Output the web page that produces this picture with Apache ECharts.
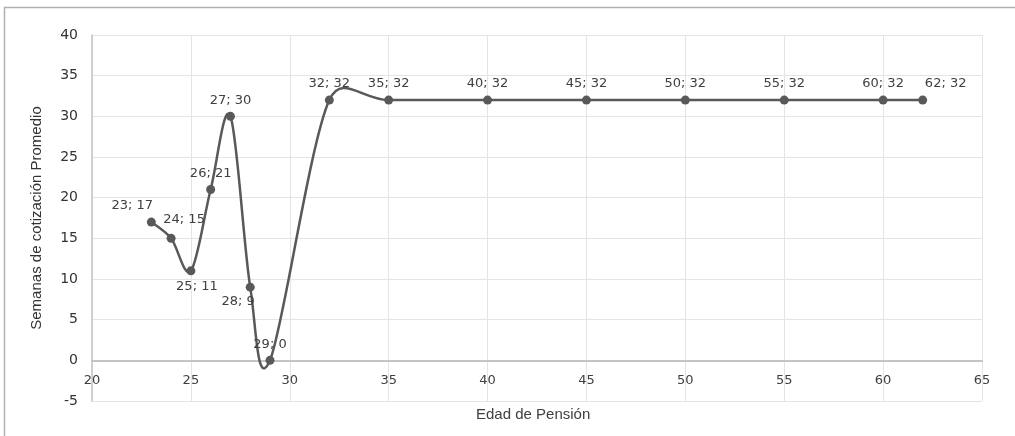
<!DOCTYPE html>
<html>
<head>
<meta charset="utf-8">
<script src="https://cdn.jsdelivr.net/npm/echarts@6/dist/echarts.min.js"></script>
<style>
  html, body { margin: 0; padding: 0; background: #ffffff; }
  #chart { width: 1015px; height: 436px; }
</style>
</head>
<body>
<div id="chart"></div>
<script>
// Edad de pensión (años) y semanas de cotización promedio
const ages = [23, 24, 25, 26, 27, 28, 29, 32, 35, 40, 45, 50, 55, 60, 62];
const weeks = [17, 15, 11, 21, 30, 9, 0, 32, 32, 32, 32, 32, 32, 32, 32];

const xTicks = { min: 20, max: 65, step: 5 };
const yTicks = { min: -5, max: 40, step: 5 };

const xTitle = 'Edad de Pensión';
const yTitle = 'Semanas de cotización Promedio';

// Label placement per point (keyed by age), everything else sits above its marker
const labelPlacement = {
  23: { position: 'top', offset: [-19, 0] },
  24: { position: 'top', offset: [13, -3] },
  25: { position: 'bottom', offset: [6, 0] },
  28: { position: 'bottom', offset: [-12, -2] },
  62: { position: 'top', offset: [23, 0] }
};

const points = ages.map((a, i) => [a, weeks[i]]);

const seriesData = points.map((p, i) => {
  const item = { value: p };
  if (labelPlacement[ages[i]]) item.label = labelPlacement[ages[i]];
  return item;
});

const ink = '#595959';
const gridColor = '#e4e4e4';
const axisColor = '#c4c4c4';

// Spreadsheet-style smoothed segment: cubic Bezier whose control arms follow
// the neighbouring points (Catmull-Rom, tension 1/6), arm capped at half the segment.
function controlArm(prev, cur, next, segLen) {
  const dx = next[0] - prev[0], dy = next[1] - prev[1];
  const len = Math.hypot(dx, dy) || 1;
  let arm = len / 6;
  arm = Math.min(arm, segLen / 2);
  return [dx / len * arm, dy / len * arm];
}

function renderSegment(params, api) {
  const i = params.dataIndex;
  if (i >= points.length - 1) return null;
  const px = points.map(p => api.coord(p));
  const p0 = px[Math.max(i - 1, 0)];
  const p1 = px[i];
  const p2 = px[i + 1];
  const p3 = px[Math.min(i + 2, px.length - 1)];
  const seg = Math.hypot(p2[0] - p1[0], p2[1] - p1[1]);
  const a1 = controlArm(p0, p1, p2, seg);
  const a2 = controlArm(p1, p2, p3, seg);
  return {
    type: 'bezierCurve',
    shape: {
      x1: p1[0], y1: p1[1],
      cpx1: p1[0] + a1[0], cpy1: p1[1] + a1[1],
      cpx2: p2[0] - a2[0], cpy2: p2[1] - a2[1],
      x2: p2[0], y2: p2[1]
    },
    style: { stroke: ink, lineWidth: 2.5, fill: null }
  };
}

const chart = echarts.init(document.getElementById('chart'), null, { renderer: 'canvas' });
chart.setOption({
  animation: false,
  backgroundColor: '#ffffff',
  grid: { left: 92, right: 33, top: 35, bottom: 35, containLabel: false },
  graphic: [
    { type: 'line', shape: { x1: 4, y1: 7.5, x2: 1015, y2: 7.5 }, style: { stroke: '#b0b0b0', lineWidth: 1.5 }, silent: true },
    { type: 'line', shape: { x1: 4.5, y1: 7, x2: 4.5, y2: 436 }, style: { stroke: '#b0b0b0', lineWidth: 1.5 }, silent: true },
    {
      type: 'text', left: 476, top: 407,
      style: { text: xTitle, font: '15px "Liberation Sans", sans-serif', fill: '#404040' }
    }
  ],
  xAxis: {
    type: 'value',
    min: xTicks.min, max: xTicks.max, interval: xTicks.step,
    axisLine: { show: true, onZero: true, lineStyle: { color: axisColor, width: 2 } },
    axisTick: { show: false },
    axisLabel: { color: '#404040', fontSize: 13, fontFamily: 'DejaVu Sans', margin: -27 },
    splitLine: { show: true, lineStyle: { color: gridColor, width: 1 } }
  },
  yAxis: {
    type: 'value',
    min: yTicks.min, max: yTicks.max, interval: yTicks.step,
    name: yTitle,
    nameLocation: 'middle',
    nameGap: 48,
    nameRotate: 90,
    nameTextStyle: { color: '#333333', fontSize: 15, fontFamily: 'Liberation Sans' },
    axisLine: { show: true, onZero: false, lineStyle: { color: axisColor, width: 1.5 } },
    axisTick: { show: false },
    axisLabel: { color: '#333333', fontSize: 14, fontFamily: 'DejaVu Sans', margin: 14 },
    splitLine: { show: true, lineStyle: { color: gridColor, width: 1 } }
  },
  series: [
    {
      type: 'custom',
      data: points,
      renderItem: renderSegment,
      z: 2,
      silent: true
    },
    {
      type: 'line',
      data: seriesData,
      z: 3,
      symbol: 'circle',
      symbolSize: 9,
      itemStyle: { color: ink },
      lineStyle: { width: 0, opacity: 0 },
      label: {
        show: true,
        position: 'top',
        distance: 5,
        color: '#404040',
        fontSize: 13,
        fontFamily: 'DejaVu Sans',
        formatter: p => p.value[0] + '; ' + p.value[1]
      }
    }
  ]
});
</script>
</body>
</html>
